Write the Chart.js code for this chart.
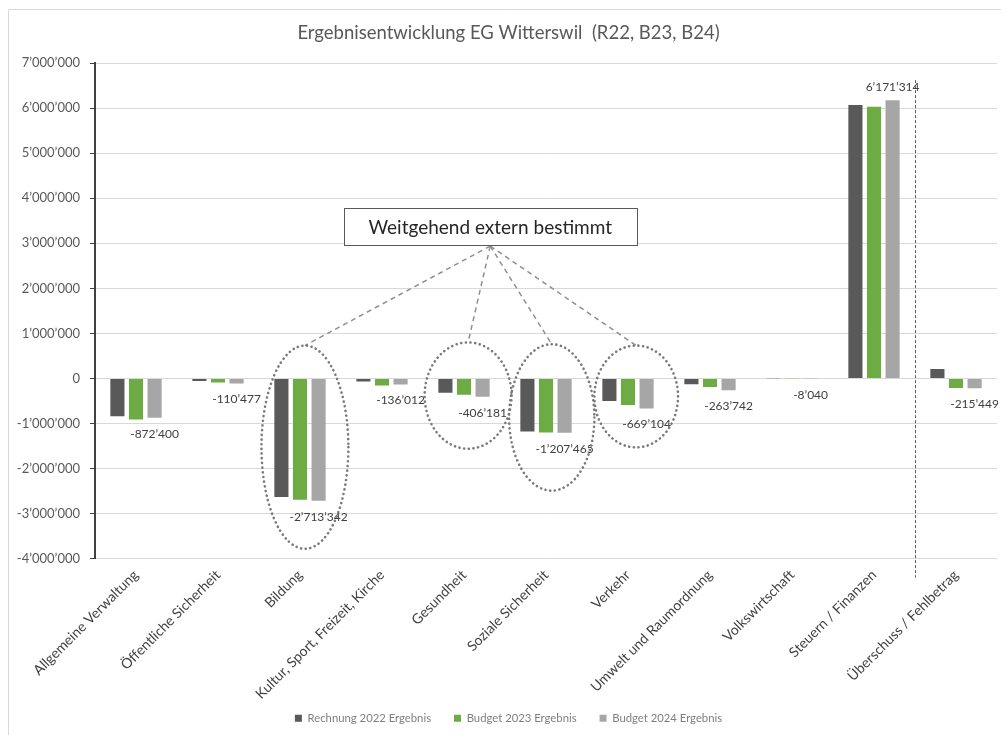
<!DOCTYPE html>
<html>
<head>
<meta charset="utf-8">
<script src="https://cdn.jsdelivr.net/npm/chart.js@4.4.1/dist/chart.umd.min.js"></script>
<style>
  html, body { margin: 0; padding: 0; background: #ffffff; }
  #wrap { position: relative; width: 1001px; height: 735px; }
</style>
</head>
<body>
<div id="wrap"><canvas id="c" width="1001" height="735"></canvas></div>
<script>
// ---- Data ----
const categories = [
  'Allgemeine Verwaltung', 'Öffentliche Sicherheit', 'Bildung',
  'Kultur, Sport, Freizeit, Kirche', 'Gesundheit', 'Soziale Sicherheit',
  'Verkehr', 'Umwelt und Raumordnung', 'Volkswirtschaft',
  'Steuern / Finanzen', 'Überschuss / Fehlbetrag'
];
const seriesNames = ['Rechnung 2022 Ergebnis', 'Budget 2023 Ergebnis', 'Budget 2024 Ergebnis'];
const rechnung2022 = [-840000, -55000, -2630000, -70000, -320000, -1180000, -500000, -130000, -5000, 6070000, 210000];
const budget2023   = [-910000, -90000, -2690000, -155000, -360000, -1200000, -590000, -190000, -7000, 6030000, -210000];
const budget2024   = [-872400, -110477, -2713342, -136012, -406181, -1207465, -669104, -263742, -8040, 6171314, -215449];
const yMin = -4000000, yMax = 7000000, yStep = 1000000;
const titleText = 'Ergebnisentwicklung EG Witterswil  (R22, B23, B24)';
const calloutText = 'Weitgehend extern bestimmt';

const colors = ['#595959', '#6dab45', '#a6a6a6'];

function fmt(v) {
  const s = Math.round(Math.abs(v)).toString().replace(/\B(?=(\d{3})+(?!\d))/g, '\u2019');
  return (v < 0 ? '-' : '') + s;
}

// ---- Annotation geometry (in category / value units) ----
const ellipseSpec = [
  { cat: 2, dx: 0.06, hw: 0.53, top: 730000, bottom: -3780000 },
  { cat: 4, dx: 0.05, hw: 0.53, top: 800000, bottom: -1560000 },
  { cat: 5, dx: 0.07, hw: 0.52, top: 760000, bottom: -2490000 },
  { cat: 6, dx: 0.10, hw: 0.51, top: 730000, bottom: -1530000 }
];
const calloutSpec = { cat: 4.32, value: 3370000, wCats: 3.57, hVal: 820000 };

const borderPlugin = {
  id: 'outerBorder',
  beforeDraw(chart) {
    const ctx = chart.ctx;
    ctx.save();
    ctx.strokeStyle = '#d9d9d9';
    ctx.lineWidth = 1;
    ctx.beginPath();
    ctx.moveTo(8.5, chart.height);
    ctx.lineTo(8.5, 9.5);
    ctx.lineTo(chart.width, 9.5);
    ctx.stroke();
    ctx.restore();
  }
};

// let the rotated category labels extend into the legend strip (no clipping)
const unclipPlugin = {
  id: 'unclipX',
  afterLayout(chart) {
    chart.scales.x.bottom = chart.height;
    chart.scales.y.left = 0;
  }
};

const labelPlugin = {
  id: 'b24Labels',
  afterDatasetsDraw(chart) {
    const ctx = chart.ctx;
    const meta = chart.getDatasetMeta(2);
    ctx.save();
    ctx.font = '12px Lato';
    ctx.fillStyle = '#404040';
    ctx.textAlign = 'center';
    ctx.textBaseline = 'middle';
    meta.data.forEach((bar, i) => {
      const v = budget2024[i];
      const y = v < 0 ? bar.y + 16 : bar.y - 13;
      ctx.fillText(fmt(v), bar.x, y);
    });
    ctx.restore();
  }
};

const annotationPlugin = {
  id: 'annotations',
  afterDatasetsDraw(chart) {
    const ctx = chart.ctx;
    const xs = chart.scales.x, ys = chart.scales.y;
    const catW = xs.getPixelForValue(1) - xs.getPixelForValue(0);
    ctx.save();

    // vertical dashed separator between Steuern and Überschuss
    const sepX = Math.round((xs.getPixelForValue(9) + xs.getPixelForValue(10)) / 2) + 0.5;
    ctx.strokeStyle = '#595959';
    ctx.lineWidth = 1;
    ctx.setLineDash([3, 2]);
    ctx.beginPath();
    ctx.moveTo(sepX, ys.getPixelForValue(6620000));
    ctx.lineTo(sepX, chart.chartArea.bottom + 19);
    ctx.stroke();

    // callout box
    const bx = xs.getPixelForValue(calloutSpec.cat);
    const by = ys.getPixelForValue(calloutSpec.value);
    const bw = calloutSpec.wCats * catW;
    const bh = Math.abs(ys.getPixelForValue(calloutSpec.hVal) - ys.getPixelForValue(0));
    const anchorX = bx, anchorY = by + bh / 2 + 1;

    // connector lines
    ctx.strokeStyle = '#8f8f8f';
    ctx.lineWidth = 1.5;
    ctx.setLineDash([5, 4]);
    ellipseSpec.forEach(e => {
      const ex = xs.getPixelForValue(e.cat) + e.dx * catW;
      const ey = ys.getPixelForValue(e.top);
      ctx.beginPath();
      ctx.moveTo(anchorX, anchorY);
      ctx.lineTo(ex, ey);
      ctx.stroke();
    });

    // ellipses
    ctx.strokeStyle = '#7a7a7a';
    ctx.lineWidth = 2.6;
    ctx.lineCap = 'round';
    ctx.setLineDash([0.1, 4.6]);
    ellipseSpec.forEach(e => {
      const cx = xs.getPixelForValue(e.cat) + e.dx * catW;
      const yt = ys.getPixelForValue(e.top), yb = ys.getPixelForValue(e.bottom);
      ctx.beginPath();
      ctx.ellipse(cx, (yt + yb) / 2, e.hw * catW, (yb - yt) / 2, 0, 0, Math.PI * 2);
      ctx.stroke();
    });

    // box
    ctx.setLineDash([]);
    ctx.lineCap = 'butt';
    ctx.fillStyle = '#ffffff';
    ctx.strokeStyle = '#595959';
    ctx.lineWidth = 1;
    const l = Math.round(bx - bw / 2) + 0.5, t = Math.round(by - bh / 2) + 0.5;
    ctx.fillRect(l, t, Math.round(bw), Math.round(bh));
    ctx.strokeRect(l, t, Math.round(bw), Math.round(bh));
    ctx.fillStyle = '#262626';
    ctx.font = '19px Lato';
    ctx.textAlign = 'center';
    ctx.textBaseline = 'middle';
    ctx.fillText(calloutText, bx, by + 1);
    ctx.restore();
  }
};

const datasets = [rechnung2022, budget2023, budget2024].map((d, i) => ({
  label: seriesNames[i],
  data: d,
  backgroundColor: colors[i],
  borderWidth: 0,
  categoryPercentage: 0.68,
  barPercentage: 0.76
}));

new Chart(document.getElementById('c'), {
  type: 'bar',
  data: { labels: categories, datasets },
  plugins: [borderPlugin, unclipPlugin, labelPlugin, annotationPlugin],
  options: {
    responsive: false,
    animation: false,
    layout: { padding: { left: 20, right: 4, top: 0, bottom: 1 } },
    plugins: {
      title: {
        display: true,
        text: titleText,
        color: '#595959',
        font: { family: 'Lato', size: 18.5, weight: 'normal' },
        padding: { top: 22, bottom: 18.8 }
      },
      legend: {
        position: 'bottom',
        labels: {
          boxWidth: 7,
          boxHeight: 7,
          padding: 23,
          color: '#7f7f7f',
          font: { family: 'Lato', size: 11.3 }
        }
      },
      tooltip: { enabled: false }
    },
    scales: {
      x: {
        grid: { display: false },
        border: { display: false },
        ticks: {
          maxRotation: 45,
          minRotation: 45,
          autoSkip: false,
          padding: 0,
          color: '#404040',
          font: { family: 'Lato', size: 14 }
        },
        afterFit(scale) { scale.height = 131; }
      },
      y: {
        min: yMin,
        max: yMax,
        grid: { color: '#d9d9d9', tickColor: '#404040', tickLength: 5, lineWidth: 1 },
        border: { color: '#404040', width: 2 },
        ticks: {
          stepSize: yStep,
          padding: 10,
          color: '#595959',
          font: { family: 'Lato', size: 13 },
          callback: v => fmt(v)
        },
        afterFit(scale) { scale.width = 75; }
      }
    }
  }
});
</script>
</body>
</html>
